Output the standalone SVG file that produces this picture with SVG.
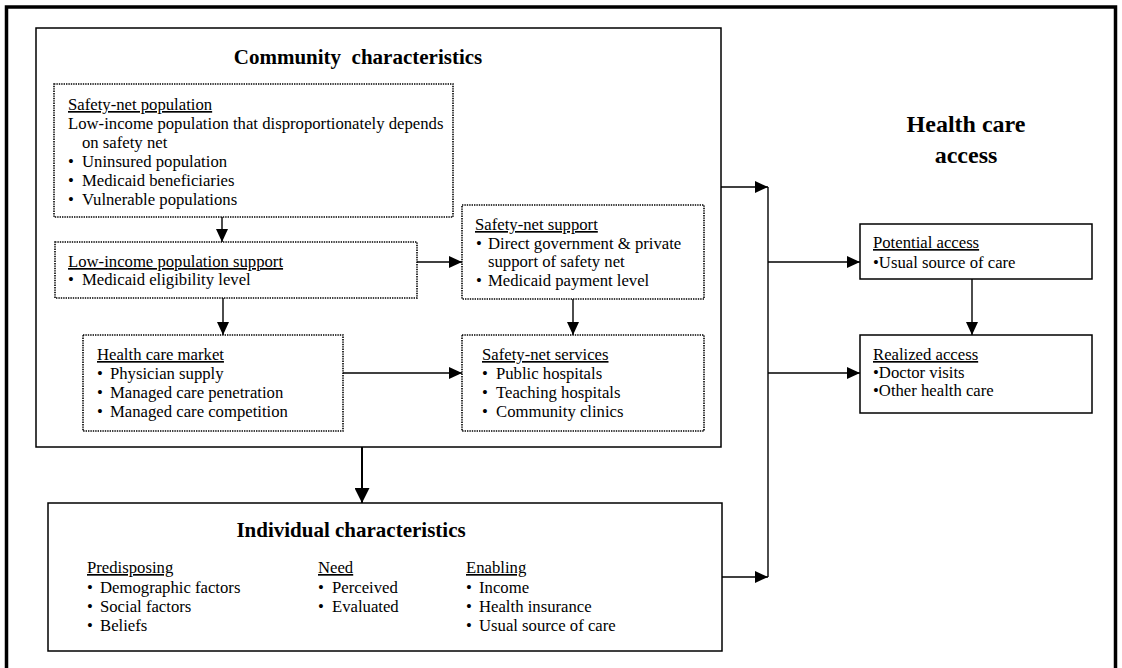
<svg xmlns="http://www.w3.org/2000/svg" width="1122" height="668" viewBox="0 0 1122 668">
<style>
text{font-family:"Liberation Serif","Times New Roman",serif;fill:#000;}
.t{font-size:16.7px;}
.u{text-decoration:underline;}
.h{font-size:21px;font-weight:bold;}
.hc{font-size:24px;font-weight:bold;}
.box{fill:#fff;stroke:#000;stroke-width:1.5;}
.dot{fill:#fff;stroke:#000;stroke-width:1.6;stroke-dasharray:1.4 1;}
.ln{fill:none;stroke:#000;stroke-width:1.4;}
.lnb{fill:none;stroke:#000;stroke-width:2;}
</style>
<defs>
<marker id="ah" markerWidth="13" markerHeight="12" refX="13" refY="6" orient="auto" markerUnits="userSpaceOnUse"><path d="M0,0 L13,6 L0,12 z" fill="#000"/></marker>
<marker id="ahb" markerWidth="15" markerHeight="15" refX="15" refY="7.5" orient="auto" markerUnits="userSpaceOnUse"><path d="M0,0 L15,7.5 L0,15 z" fill="#000"/></marker>
</defs>
<rect x="0" y="0" width="1122" height="668" fill="#fff"/>
<rect x="6.5" y="7" width="1109" height="720" fill="none" stroke="#000" stroke-width="3.5"/>

<g id="community">
<rect class="box" x="36" y="28" width="685" height="419"/>
<text class="h" x="358" y="64" text-anchor="middle">Community&#160; characteristics</text>
</g>

<g id="safety-net-population">
<rect class="dot" x="54" y="84" width="399" height="133"/>
<text class="t u" x="68" y="110">Safety-net population</text>
<text class="t" x="68" y="129">Low-income population that disproportionately depends</text>
<text class="t" x="82" y="148">on safety net</text>
<text class="t" y="167"><tspan x="68">•</tspan><tspan x="82">Uninsured population</tspan></text>
<text class="t" y="186"><tspan x="68">•</tspan><tspan x="82">Medicaid beneficiaries</tspan></text>
<text class="t" y="205"><tspan x="68">•</tspan><tspan x="82">Vulnerable populations</tspan></text>
</g>

<g id="low-income-support">
<rect class="dot" x="55" y="242" width="362" height="56"/>
<text class="t u" x="68" y="267">Low-income population support</text>
<text class="t" y="285"><tspan x="68">•</tspan><tspan x="82">Medicaid eligibility level</tspan></text>
</g>

<g id="health-care-market">
<rect class="dot" x="83" y="335" width="260" height="96"/>
<text class="t u" x="97" y="360">Health care market</text>
<text class="t" y="379"><tspan x="97">•</tspan><tspan x="110">Physician supply</tspan></text>
<text class="t" y="398"><tspan x="97">•</tspan><tspan x="110">Managed care penetration</tspan></text>
<text class="t" y="417"><tspan x="97">•</tspan><tspan x="110">Managed care competition</tspan></text>
</g>

<g id="safety-net-support">
<rect class="dot" x="462" y="205" width="242" height="94"/>
<text class="t u" x="475" y="230">Safety-net support</text>
<text class="t" y="249"><tspan x="476">•</tspan><tspan x="488">Direct government &amp; private</tspan></text>
<text class="t" x="488" y="267">support of safety net</text>
<text class="t" y="286"><tspan x="476">•</tspan><tspan x="488">Medicaid payment level</tspan></text>
</g>

<g id="safety-net-services">
<rect class="dot" x="462" y="335" width="242" height="96"/>
<text class="t u" x="482" y="360">Safety-net services</text>
<text class="t" y="379"><tspan x="482">•</tspan><tspan x="496">Public hospitals</tspan></text>
<text class="t" y="398"><tspan x="482">•</tspan><tspan x="496">Teaching hospitals</tspan></text>
<text class="t" y="417"><tspan x="482">•</tspan><tspan x="496">Community clinics</tspan></text>
</g>

<g id="individual">
<rect class="box" x="48" y="503" width="674" height="148"/>
<text class="h" x="351" y="537" text-anchor="middle">Individual characteristics</text>
<text class="t u" x="87" y="573">Predisposing</text>
<text class="t" y="593"><tspan x="87">•</tspan><tspan x="100">Demographic factors</tspan></text>
<text class="t" y="612"><tspan x="87">•</tspan><tspan x="100">Social factors</tspan></text>
<text class="t" y="631"><tspan x="87">•</tspan><tspan x="100">Beliefs</tspan></text>
<text class="t u" x="318" y="573">Need</text>
<text class="t" y="593"><tspan x="318">•</tspan><tspan x="332">Perceived</tspan></text>
<text class="t" y="612"><tspan x="318">•</tspan><tspan x="332">Evaluated</tspan></text>
<text class="t u" x="466" y="573">Enabling</text>
<text class="t" y="593"><tspan x="466">•</tspan><tspan x="479">Income</tspan></text>
<text class="t" y="612"><tspan x="466">•</tspan><tspan x="479">Health insurance</tspan></text>
<text class="t" y="631"><tspan x="466">•</tspan><tspan x="479">Usual source of care</tspan></text>
</g>

<g id="health-care-access">
<text class="hc" x="966" y="132" text-anchor="middle">Health care</text>
<text class="hc" x="966" y="163" text-anchor="middle">access</text>
</g>

<g id="potential-access">
<rect class="box" x="860" y="224" width="232" height="55"/>
<text class="t u" x="873" y="248">Potential access</text>
<text class="t" x="873" y="268">•Usual source of care</text>
</g>

<g id="realized-access">
<rect class="box" x="860" y="335" width="232" height="78"/>
<text class="t u" x="873" y="360">Realized access</text>
<text class="t" x="873" y="378">•Doctor visits</text>
<text class="t" x="873" y="396">•Other health care</text>
</g>

<g id="connectors">
<line class="ln" x1="222" y1="217" x2="222" y2="242" marker-end="url(#ah)"/>
<line class="ln" x1="223" y1="298" x2="223" y2="335" marker-end="url(#ah)"/>
<line class="ln" x1="417" y1="262" x2="462" y2="262" marker-end="url(#ah)"/>
<line class="ln" x1="573" y1="299" x2="573" y2="335" marker-end="url(#ah)"/>
<line class="ln" x1="343" y1="373" x2="462" y2="373" marker-end="url(#ah)"/>
<line class="lnb" x1="362" y1="447" x2="362" y2="503" marker-end="url(#ahb)"/>
<line class="ln" x1="721" y1="187" x2="768" y2="187" marker-end="url(#ah)"/>
<line class="ln" x1="722" y1="577" x2="768" y2="577" marker-end="url(#ah)"/>
<line class="ln" x1="768" y1="187" x2="768" y2="577"/>
<line class="ln" x1="768" y1="262" x2="860" y2="262" marker-end="url(#ah)"/>
<line class="ln" x1="768" y1="373" x2="860" y2="373" marker-end="url(#ah)"/>
<line class="ln" x1="972" y1="279" x2="972" y2="335" marker-end="url(#ah)"/>
</g>
</svg>
